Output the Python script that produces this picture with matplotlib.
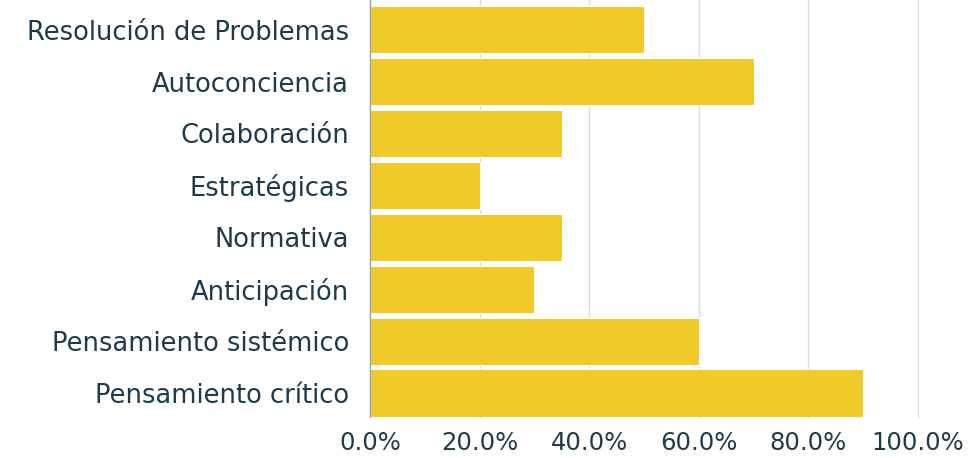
import matplotlib
matplotlib.use("Agg")
import matplotlib.pyplot as plt
from matplotlib.ticker import FuncFormatter

categories = ["Pensamiento crítico", "Pensamiento sistémico", "Anticipación", "Normativa",
              "Estratégicas", "Colaboración", "Autoconciencia", "Resolución de Problemas"]
values = [0.90, 0.60, 0.30, 0.35, 0.20, 0.35, 0.70, 0.50]
xticks = [0.0, 0.2, 0.4, 0.6, 0.8, 1.0]

text_color = "#1d3b4f"
bar_color = "#f0ca28"

plt.rcParams['font.family'] = ['DejaVu Sans']
fig = plt.figure(figsize=(9.69, 4.58), dpi=100)
ax = fig.add_axes([370/969, 1 - 417/458, (918-370)/969, 417/458])

ys = list(range(len(categories)))
ax.barh(ys, values, height=0.91, color=bar_color, edgecolor="white", linewidth=0.8, zorder=3)

ax.set_xlim(0, 1.0)
ax.set_ylim(-0.46, 7.57)
ax.set_yticks(ys)
ax.set_yticklabels(categories, fontsize=18.5, color=text_color)
ax.set_xticks(xticks)
ax.xaxis.set_major_formatter(FuncFormatter(lambda v, p: f"{v*100:.1f}%"))
ax.tick_params(axis='x', labelsize=17.5, colors=text_color, length=0, pad=10)
ax.tick_params(axis='y', length=0, pad=15)
ax.grid(axis='x', color="#d9dcdf", linewidth=1, zorder=0)
for gl in ax.get_xgridlines():
    gl.set_clip_on(False)
for s in ["top", "right", "bottom"]:
    ax.spines[s].set_visible(False)
ax.spines["left"].set_color("#9aa6b0")
ax.spines["left"].set_linewidth(1)
ax.spines["left"].set_zorder(4)

fig.savefig("out.png", dpi=100)
